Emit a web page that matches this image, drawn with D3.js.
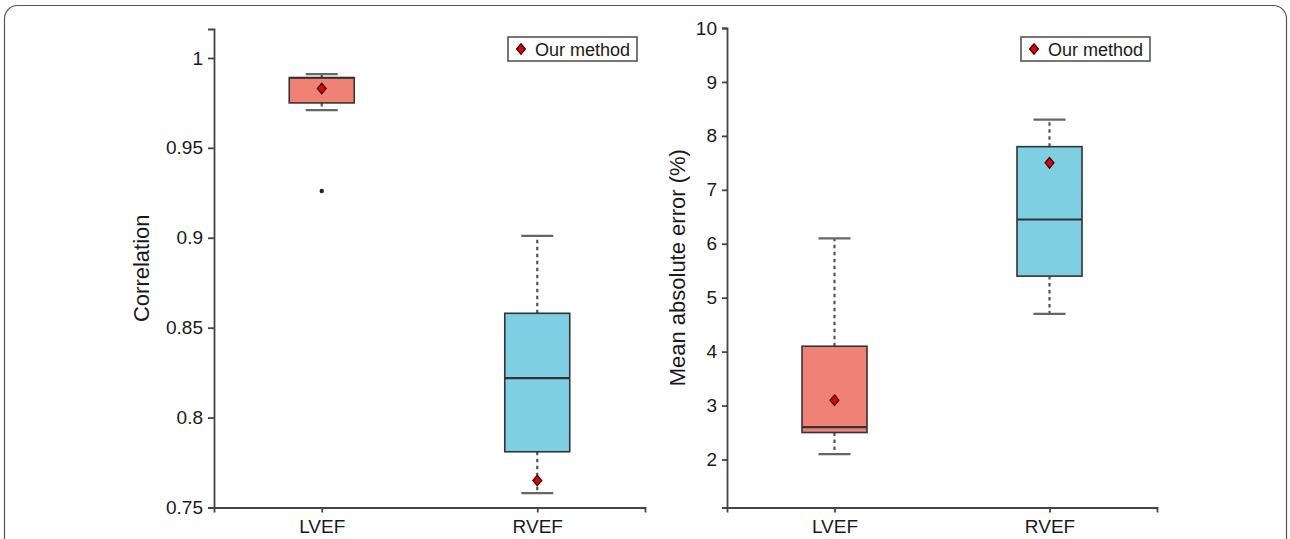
<!DOCTYPE html>
<html lang="en">

<head>
    <meta charset="UTF-8">
    <script src="https://cdnjs.cloudflare.com/ajax/libs/d3/7.8.5/d3.min.js"></script>
    <style>
        body { margin: 0; background: #fff; }
        svg { display: block; font-family: "Liberation Sans", Arial, sans-serif; }
    </style>
    <title>Boxplots</title>
</head>

<body>
    <div id="content"></div>
</body>
<script>
    const categories = ['LVEF', 'RVEF'];
    const boxColors = ['#ef8274', '#7fcfe2'];

    // Correlation panel
    const corrLow = [0.971, 0.758];
    const corrQ1 = [0.975, 0.781];
    const corrMed = [0.989, 0.822];
    const corrQ3 = [0.989, 0.858];
    const corrHigh = [0.991, 0.901];
    const corrOurs = [0.983, 0.765];
    const corrOutliers = [[0.926], []];
    const corrTicks = [0.75, 0.8, 0.85, 0.9, 0.95, 1];
    const corrTickLabels = ['0.75', '0.8', '0.85', '0.9', '0.95', '1'];

    // MAE panel
    const maeLow = [2.1, 4.7];
    const maeQ1 = [2.5, 5.4];
    const maeMed = [2.6, 6.45];
    const maeQ3 = [4.1, 7.8];
    const maeHigh = [6.1, 8.3];
    const maeOurs = [3.1, 7.5];
    const maeOutliers = [[], []];
    const maeTicks = [2, 3, 4, 5, 6, 7, 8, 9, 10];
    const maeTickLabels = ['2', '3', '4', '5', '6', '7', '8', '9', '10'];

    const width = 1290;
    const height = 539;

    const svg = d3.select('#content')
        .append('svg')
        .attr('width', width)
        .attr('height', height);

    //Frame
    svg.append('rect')
        .attr('x', 4.5)
        .attr('y', 5.5)
        .attr('width', 1282)
        .attr('height', 600)
        .attr('rx', 13)
        .style('fill', 'none')
        .style('stroke', '#555')
        .style('stroke-width', 1.2)

    const diamond = d3.symbol(d3.symbolDiamond, 40)
    const diamondShape = 'scale(1.3,0.9)'

    function panel(cfg) {
        const g = svg.append('g')
            .attr('transform', `translate(${cfg.left},0)`)
        const xScale = d3.scalePoint().domain(categories).range([0, cfg.w]).padding(0.5);
        const yScale = d3.scaleLinear().domain(cfg.domain).range([cfg.bottom, cfg.top]);
        const bw = 65;
        const cw = 32;
        const rows = categories.map((c, i) => ({
            c, i, low: cfg.low[i], q1: cfg.q1[i], med: cfg.med[i], q3: cfg.q3[i],
            high: cfg.high[i], ours: cfg.ours[i], out: cfg.out[i]
        }))

        //Whiskers
        const wk = g.selectAll('.wk').data(rows).enter().append('g')
        wk.append('line')
            .attr('x1', o => xScale(o.c)).attr('x2', o => xScale(o.c))
            .attr('y1', o => yScale(o.q3)).attr('y2', o => yScale(o.high))
        wk.append('line')
            .attr('x1', o => xScale(o.c)).attr('x2', o => xScale(o.c))
            .attr('y1', o => yScale(o.q1)).attr('y2', o => yScale(o.low))
        wk.selectAll('line')
            .style('stroke', '#555').style('stroke-width', 2.2).style('stroke-dasharray', '3.5,3.5')
        wk.append('line')
            .attr('x1', o => xScale(o.c) - cw / 2).attr('x2', o => xScale(o.c) + cw / 2)
            .attr('y1', o => yScale(o.high)).attr('y2', o => yScale(o.high))
            .style('stroke', '#666').style('stroke-width', 2.2)
        wk.append('line')
            .attr('x1', o => xScale(o.c) - cw / 2).attr('x2', o => xScale(o.c) + cw / 2)
            .attr('y1', o => yScale(o.low)).attr('y2', o => yScale(o.low))
            .style('stroke', '#666').style('stroke-width', 2.2)

        //Box
        g.selectAll('.box').data(rows).enter().append('rect')
            .attr('x', o => xScale(o.c) - bw / 2)
            .attr('y', o => yScale(o.q3))
            .attr('width', bw)
            .attr('height', o => yScale(o.q1) - yScale(o.q3))
            .style('fill', o => boxColors[o.i])
            .style('stroke', '#333')
            .style('stroke-width', 1.6)
        //Median
        g.selectAll('.med').data(rows).enter().append('line')
            .attr('x1', o => xScale(o.c) - bw / 2).attr('x2', o => xScale(o.c) + bw / 2)
            .attr('y1', o => yScale(o.med)).attr('y2', o => yScale(o.med))
            .style('stroke', '#333').style('stroke-width', 2.2)

        //Outliers
        g.selectAll('.out').data(rows.flatMap(o => o.out.map(v => ({ c: o.c, v })))).enter().append('circle')
            .attr('cx', o => xScale(o.c)).attr('cy', o => yScale(o.v)).attr('r', 2.2)
            .style('fill', '#222')

        //Our method
        g.selectAll('.ours').data(rows).enter().append('path')
            .attr('d', diamond)
            .attr('transform', o => `translate(${xScale(o.c)},${yScale(o.ours)}) ${diamondShape}`)
            .style('fill', '#e50000').style('stroke', '#3a0000').style('stroke-width', 1.1)

        //Axis Y
        const yAxis = d3.axisLeft(yScale).tickValues(cfg.ticks)
            .tickFormat((o, i) => cfg.tickLabels[i]).tickSizeOuter(0).tickSize(cfg.tick).tickPadding(5)
        g.append('g').attr('class', 'axis').call(yAxis)
        //Axis X
        const xAxis = d3.axisBottom(xScale).tickSizeOuter(0).tickSize(5).tickPadding(7)
        g.append('g').attr('class', 'axis').attr('transform', `translate(0,${cfg.bottom})`).call(xAxis)
        g.selectAll('.axis path, .axis line').style('stroke', '#444').style('stroke-width', 1.8)
        g.selectAll('.axis text').style('font-size', '19px').style('fill', '#1a1a1a')

        //Label
        g.append('text')
            .attr('transform', `translate(${cfg.labelX},${(cfg.top + cfg.bottom) / 2}) rotate(-90)`)
            .attr('text-anchor', 'middle')
            .style('font-size', '22px')
            .style('fill', '#1a1a1a')
            .text(cfg.label)

        //Legend
        const lg = g.append('g').attr('transform', `translate(${cfg.legendX},37)`)
        lg.append('rect').attr('width', 129).attr('height', 24)
            .style('fill', '#fff').style('stroke', '#555').style('stroke-width', 1.6)
        lg.append('path').attr('d', diamond)
            .attr('transform', `translate(13,12) ${diamondShape}`)
            .style('fill', '#e50000').style('stroke', '#3a0000').style('stroke-width', 1.1)
        lg.append('text').attr('x', 27).attr('y', 18.5)
            .style('font-size', '18px').style('fill', '#1a1a1a').text('Our method')
    }

    panel({
        left: 214, w: 431, top: 29, bottom: 507.5, domain: [0.75, 1.0161],
        low: corrLow, q1: corrQ1, med: corrMed, q3: corrQ3, high: corrHigh, ours: corrOurs, out: corrOutliers,
        ticks: corrTicks, tickLabels: corrTickLabels, tick: 6, label: 'Correlation', labelX: -65, legendX: 294
    })
    panel({
        left: 727, w: 430, top: 28, bottom: 507.5, domain: [1.11, 10],
        low: maeLow, q1: maeQ1, med: maeMed, q3: maeQ3, high: maeHigh, ours: maeOurs, out: maeOutliers,
        ticks: maeTicks, tickLabels: maeTickLabels, tick: 5, label: 'Mean absolute error (%)', labelX: -42, legendX: 294
    })
</script>

</html>
